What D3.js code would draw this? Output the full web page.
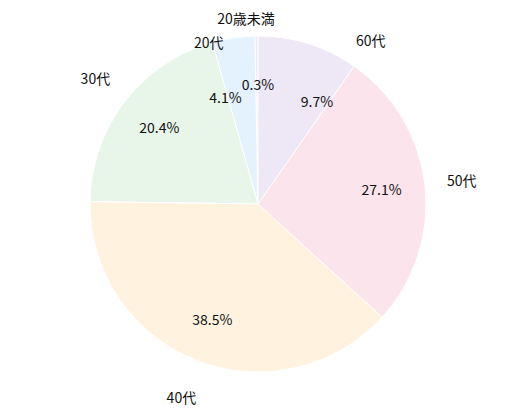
<!DOCTYPE html>
<html><head><meta charset="utf-8">
<script src="https://cdn.jsdelivr.net/npm/d3@7"></script>
<style>body{margin:0;background:#fff}</style></head>
<body><svg id="c" width="515" height="417"></svg>
<script>
const categories = ["20歳未満","20代","30代","40代","50代","60代"];
const values = [0.3,4.1,20.4,38.5,27.1,9.7];
const colors = ["#e8eaf6","#e3f2fd","#e8f5e9","#fff3e0","#fce4ec","#ede7f6"];
const cx=258, cy=204, r=168;
const svg=d3.select("#c");
const g=svg.append("g").attr("transform",`translate(${cx},${cy})`);
const data=categories.map((c,i)=>({c,v:values[i],col:colors[i]}));
const pie=d3.pie().value(d=>d.v).sort(null).startAngle(0).endAngle(-2*Math.PI);
const arcs=pie(data);
const arc=d3.arc().innerRadius(0).outerRadius(r);
g.selectAll("path").data(arcs).join("path").attr("d",arc)
 .attr("fill",d=>d.data.col).attr("stroke","#fff").attr("stroke-width",1);
const font="'Noto Sans CJK JP','Noto Sans',sans-serif";
// label placement: [angle shift (rad), radius factor] per slice
const pctAdj=[[-0.0,0.71],[-0.15,0.66],[0,0.74],[0,0.74],[0,0.74],[0.22,0.70]];
const labAdj=[[0.0,1.12],[-0.15,1.0],[0,1.22],[0,1.24],[0,1.22],[0.30,1.18]];
function pos(d,adj){const a=(d.startAngle+d.endAngle)/2+adj[0];const rr=r*adj[1];return [Math.sin(a)*rr,-Math.cos(a)*rr];}
g.selectAll("text.p").data(arcs).join("text").attr("class","p")
 .attr("transform",(d,i)=>{let p=pos(d,pctAdj[i]); if(i==0)p=[0,-r*0.71]; return `translate(${p})`;})
 .attr("text-anchor","middle").attr("dy","0.35em")
 .attr("font-family",font).attr("font-size",14).attr("fill","#111").text(d=>d.data.v.toFixed(1)+"%");
g.selectAll("text.l").data(arcs).join("text").attr("class","l")
 .attr("transform",(d,i)=>{let p=pos(d,labAdj[i]); if(i==0)p=[-12,-r*1.1]; return `translate(${p})`;})
 .attr("text-anchor","middle").attr("dy","0.35em")
 .attr("font-family",font).attr("font-size",14).attr("fill","#111").text(d=>d.data.c);
</script></body></html>
